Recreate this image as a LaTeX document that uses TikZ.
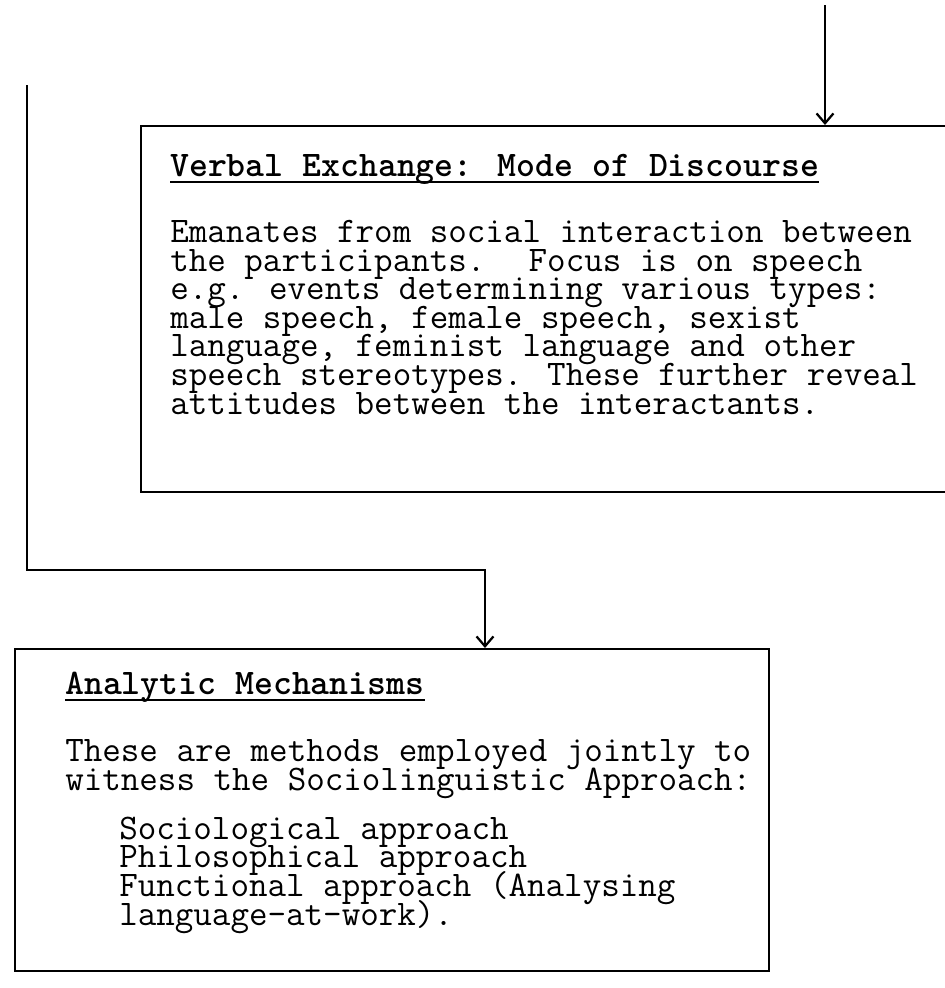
\documentclass[tikz,border=0pt]{standalone}
\usetikzlibrary{arrows.meta,positioning,calc}
\newcommand\tightlines{\lineskiplimit=-100pt\relax}

\begin{document}
\begin{tikzpicture}[x=0.025cm, y=-0.025cm,
    box/.style={draw, rectangle, line width=1.6pt, inner sep=0pt, anchor=north west},
    txt/.style={anchor=base west, inner sep=0pt, align=left,
        font=\ttfamily\fontsize{25.6}{20.3}\selectfont\tightlines},
    head/.style={txt, font=\ttfamily\bfseries\fontsize{25.6}{20.3}\selectfont},
    uline/.style={line width=1.5pt},
    arr/.style={line width=1.3pt, -{Straight Barb[length=7pt,width=12pt,line width=1.6pt]}}
]
    \useasboundingbox (0,0) rectangle (945,988);

    % Boxes
    \node [box, minimum width=20.5cm, minimum height=9.15cm] (verbal) at (140,125) {};
    \node [box, minimum width=18.85cm, minimum height=8.05cm] (mech) at (14,648) {};

    % Verbal exchange (text nodes sit on the baseline of their last line)
    \node [head] (vhead) at (170,176) {Verbal Exchange: Mode of Discourse};
    \draw [uline] ([yshift=-4pt]vhead.base west) -- ([yshift=-4pt]vhead.base east);
    \node [txt] (vbody) at (170,414) {Emanates from social interaction between\\
        the participants.~ Focus is on speech\\
        e.g. events determining various types:\\
        male speech, female speech, sexist\\
        language, feminist language and other\\
        speech stereotypes. These further reveal\\
        attitudes between the interactants.};

    % Analytic mechanisms
    \node [head] (mhead) at (65,694) {Analytic Mechanisms};
    \draw [uline] ([yshift=-4pt]mhead.base west) -- ([yshift=-4pt]mhead.base east);
    \node [txt] (mbody) at (65,790) {These are methods employed jointly to\\
        witness the Sociolinguistic Approach:};
    \node [txt] (mlist) at (119,925) {Sociological approach\\
        Philosophical approach\\
        Functional approach (Analysing\\
        language-at-work).};

    % Connectors
    \coordinate (src) at (825,5);
    \coordinate (lefttop) at (27,85);
    \coordinate (bend) at (485,570);
    \draw [arr] (src) -- (src |- verbal.north);
    \draw [arr] (lefttop) |- (bend) -- (bend |- mech.north);
\end{tikzpicture}
\end{document}
